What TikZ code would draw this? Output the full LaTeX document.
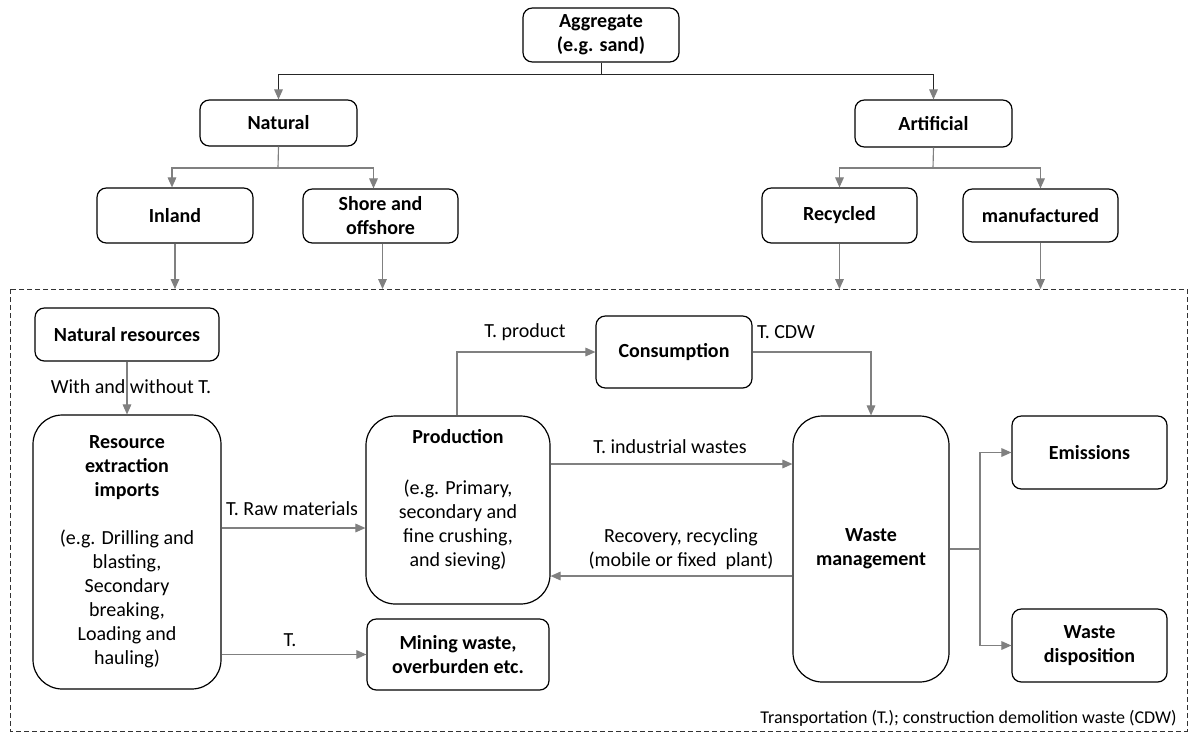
\documentclass[tikz,border=0pt]{standalone}
\usepackage{fontspec}
\setmainfont{Carlito}
\usetikzlibrary{arrows.meta}

\begin{document}
\begin{tikzpicture}[x=0.75pt,y=-0.75pt,
  box/.style={draw=black, line width=0.9pt, rounded corners=7pt, align=center,
    inner sep=2pt, font=\bfseries\fontsize{15}{18}\selectfont},
  bigbox/.style={box, rounded corners=22pt},
  wh/.style n args={2}{minimum width=#1*0.75pt, minimum height=#2*0.75pt},
  txt/.style={align=center, inner sep=1pt, font=\fontsize{15}{18}\selectfont},
  tip/.style={-{Triangle[length=7.5pt,width=6.5pt,color=gray]}},
  conn/.style={draw=gray, line width=0.85pt, tip},
  line/.style={draw=gray, line width=0.85pt},
  topconn/.style={draw=black!85, line width=0.75pt, tip},
  frame/.style={draw=black!80, line width=0.7pt, dash pattern=on 3.5pt off 2.5pt}]

\useasboundingbox (0,0) rectangle (1190,733);

% ---- classification tree ----
\node[box, wh={156}{54}] (agg) at (601,35) {Aggregate\\(e.g. sand)};
\node[box, wh={157}{46}] (natural) at (278.5,123) {Natural};
\node[box, wh={157}{47}] (artificial) at (933.5,123.5) {Artificial};
\node[box, wh={156}{55}] (inland) at (175,215.5) {Inland};
\node[box, wh={155}{54}] (shore) at (380.5,216) {Shore and\\offshore};
\node[box, wh={155}{55}] (recycled) at (839.5,215.5) {Recycled};
\node[box, wh={155}{53}] (manuf) at (1040.5,215.5) {manufactured};

\coordinate (aggj) at (601,74);
\coordinate (natj) at (278,168);
\coordinate (artj) at (933,168);
\coordinate (ftop) at (0,289);

\draw[topconn] (agg.south) -- (aggj) -| (natural.north);
\draw[topconn] (aggj) -| (artificial.north);
\draw[line] (natural.south) -- (natj);
\draw[conn] (natj) -| ([xshift=-2.25pt]inland.north);
\draw[conn] (natj) -| ([xshift=-5.25pt]shore.north);
\draw[line] (artificial.south) -- (artj);
\draw[conn] (artj) -| (recycled.north);
\draw[conn] (artj) -| (manuf.north);

\draw[conn] (inland.south) -- (inland.south |- ftop);
\draw[conn] ([xshift=1.5pt]shore.south) -- ([xshift=1.5pt]shore.south |- ftop);
\draw[conn] (recycled.south) -- (recycled.south |- ftop);
\draw[conn] (manuf.south) -- (manuf.south |- ftop);

% ---- dashed system boundary ----
\draw[frame] (10,289) rectangle (1187,731);

% ---- material flow ----
\node[box, wh={184}{53}] (natres) at (127,334.5) {Natural resources};
\node[bigbox, wh={188}{274}] (resext) at (127,552)
  {Resource\\extraction\\imports\\[18pt]\mdseries(e.g. Drilling and\\\mdseries blasting,\\\mdseries Secondary\\\mdseries breaking,\\\mdseries Loading and\\\mdseries hauling)};
\node[bigbox, wh={184}{188}] (prod) at (458,510) {};
\node[txt] (prodtext) at (458,500)
  {\textbf{Production}\\[20pt](e.g. Primary,\\secondary and\\fine crushing,\\and sieving)};
\node[box, wh={182}{71}] (mining) at (458,654.5) {Mining waste,\\overburden etc.};
\node[box, wh={156}{72}] (cons) at (674,352) {Consumption};
\node[bigbox, wh={156}{266}] (wm) at (871,549) {Waste\\management};
\node[box, wh={155}{73}] (emis) at (1089.5,452.5) {Emissions};
\node[box, wh={155}{73}] (disp) at (1089.5,645.5) {Waste\\disposition};

\coordinate (rawy) at (0,528);
\coordinate (indy) at (0,464);
\coordinate (recy) at (0,576);
\coordinate (wmj) at (980,549);

\draw[conn] (natres.south) -- (resext.north);
\node[txt] (lwith) at (131,387) {With and without T.};

\draw[conn] (resext.east |- rawy) -- (prod.west |- rawy);
\node[txt] (lraw) at (292,509) {T. Raw materials};

\draw[conn] (resext.east |- mining.west) -- (mining.west);
\node[txt] (lt) at (290,640) {T.};

\draw[conn] ([xshift=-0.75pt]prod.north) |- (cons.west);
\node[txt] (lprod) at (525,332) {T. product};

\draw[conn] (cons.east) -| (wm.north);
\node[txt] (lcdw) at (786,332) {T. CDW};

\draw[conn] (prod.east |- indy) -- (wm.west |- indy);
\node[txt] (lind) at (670,447) {T. industrial wastes};

\draw[conn] (wm.west |- recy) -- (prod.east |- recy);
\node[txt] (lrec) at (681,549) {Recovery, recycling\\(mobile or fixed\ \ plant)};

\draw[line] (wm.east) -- (wmj);
\draw[conn] (wmj) |- (emis.west);
\draw[conn] (wmj) |- (disp.west);

\node[anchor=east, inner sep=0pt, font=\fontsize{13.5}{16}\selectfont] (note) at (1177,718)
  {Transportation (T.); construction demolition waste (CDW)};

\end{tikzpicture}
\end{document}
